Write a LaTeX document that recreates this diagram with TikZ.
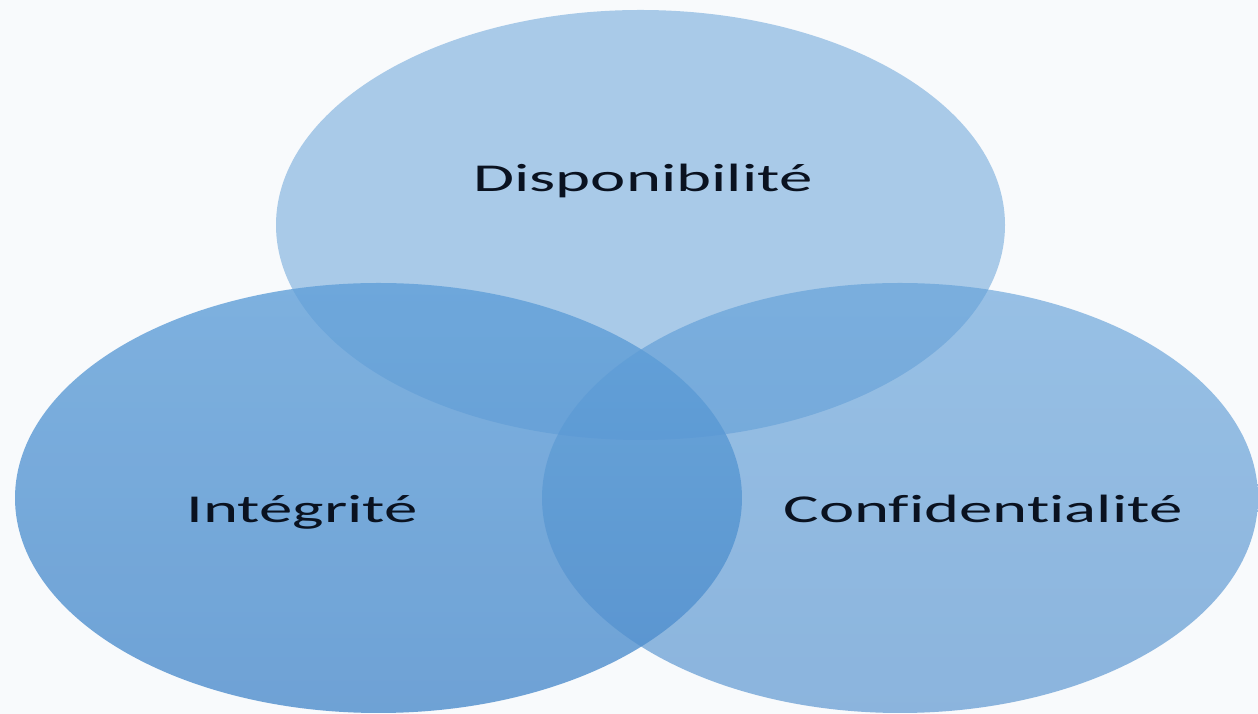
\documentclass[tikz,border=0pt]{standalone}
\usepackage{fontspec}
\setmainfont{Carlito}[Ligatures=NoCommon]
\usepackage{graphicx}
\definecolor{bg}{RGB}{248,250,252}
\definecolor{venn}{RGB}{91,155,213}
\definecolor{vennlight}{RGB}{96,159,216}
\definecolor{venndark}{RGB}{76,140,204}
\definecolor{txt}{RGB}{10,18,32}
\begin{document}
\begin{tikzpicture}[x=1pt,y=1pt,
  setcirc/.style={top color=vennlight,bottom color=venndark},
  setlabel/.style={text=txt,inner sep=0pt,anchor=base,font=\fontsize{39.5}{40}\selectfont}]
\fill[bg] (0,0) rectangle (1258,714);
\useasboundingbox (0,0) rectangle (1258,714);
\fill[venn,fill opacity=0.5] (640.5,489) ellipse [x radius=364.5, y radius=215];
\shade[setcirc,fill opacity=0.8,opacity=0.8] (378.5,216) ellipse [x radius=363.5, y radius=215];
\shade[setcirc,fill opacity=0.63,opacity=0.63] (900,216) ellipse [x radius=358, y radius=215];
\node[setlabel] (dispo) at (643,522) {\scalebox{1.69}[1]{Disponibilité}};
\node[setlabel] (integ) at (302,191) {\scalebox{1.69}[1]{Intégrité}};
\node[setlabel] (confi) at (983,191) {\scalebox{1.69}[1]{Confidentialité}};
\end{tikzpicture}
\end{document}
